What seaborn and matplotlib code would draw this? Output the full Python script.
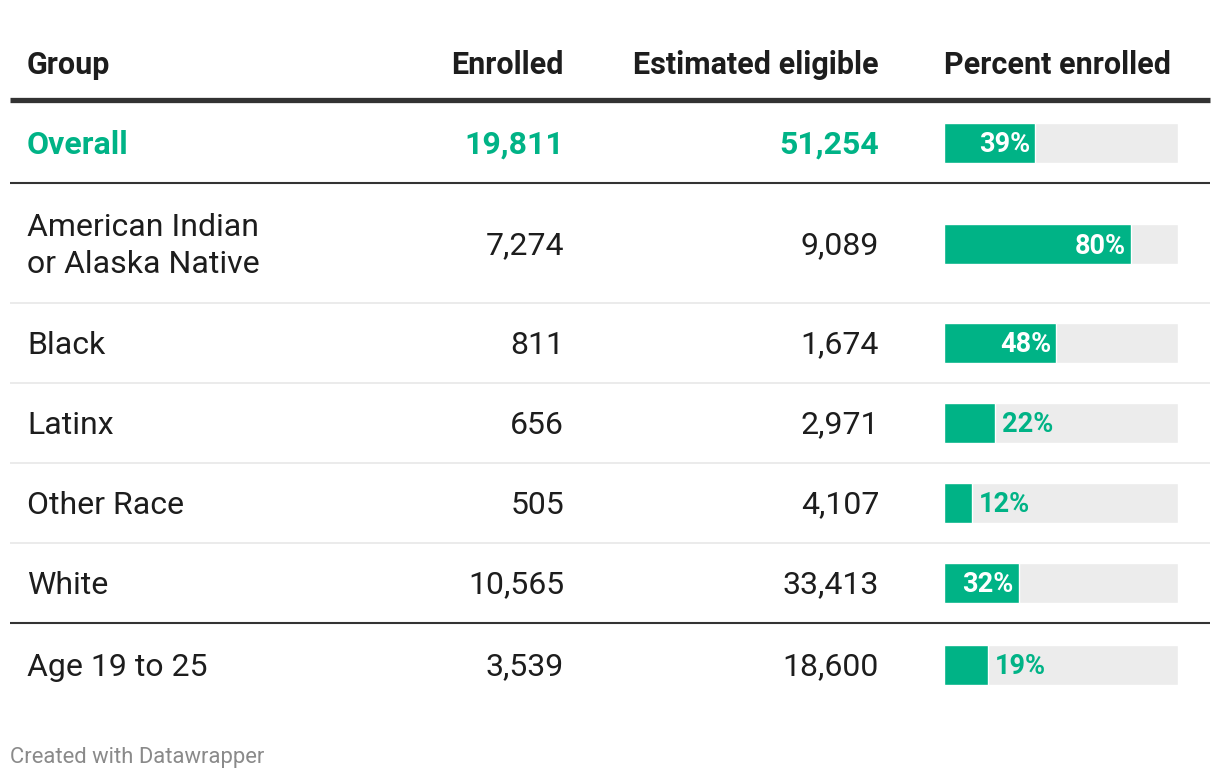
import matplotlib
matplotlib.use("Agg")
import matplotlib.pyplot as plt
import seaborn as sns
import pandas as pd

# table data
groups = ["Overall", "American Indian\nor Alaska Native", "Black", "Latinx", "Other Race", "White", "Age 19 to 25"]
enrolled = [19811, 7274, 811, 656, 505, 10565, 3539]
eligible = [51254, 9089, 1674, 2971, 4107, 33413, 18600]
percent = [39, 80, 48, 22, 12, 32, 19]
headers = ["Group", "Enrolled", "Estimated eligible", "Percent enrolled"]

# layout (pixels)
row_y = [143, 244, 343, 423, 503, 583, 665]
GREEN = "#00b386"
TRACK = "#ececec"
DARK = "#333333"
TEXT = "#1d1d1d"
FS = 23

sns.set_theme(style="white")
plt.rcParams["font.family"] = ["Roboto", "DejaVu Sans"]

fig = plt.figure(figsize=(12.2, 7.8), dpi=100)
ax = fig.add_axes([0, 0, 1, 1])
ax.set_xlim(0, 1220)
ax.set_ylim(780, 0)
ax.axis("off")

# header
hy = 65
ax.text(27, hy, headers[0], fontsize=22, fontweight="bold", color=TEXT, va="center", ha="left")
ax.text(564, hy, headers[1], fontsize=22, fontweight="bold", color=TEXT, va="center", ha="right")
ax.text(879, hy, headers[2], fontsize=22, fontweight="bold", color=TEXT, va="center", ha="right")
ax.text(944, hy, headers[3], fontsize=22, fontweight="bold", color=TEXT, va="center", ha="left")

# rules
ax.plot([10, 1210], [100, 100], color=DARK, lw=3.8, solid_capstyle="butt")
ax.plot([10, 1210], [183, 183], color=DARK, lw=1.5, solid_capstyle="butt")
ax.plot([10, 1210], [623, 623], color=DARK, lw=1.5, solid_capstyle="butt")
for yl in [303, 383, 463, 543]:
    ax.plot([10, 1210], [yl, yl], color="#e8e8e8", lw=1.2, solid_capstyle="butt")

# rows
for i, g in enumerate(groups):
    first = i == 0
    col = GREEN if first else TEXT
    fw = "bold" if first else "normal"
    ty = row_y[i] + 2
    ax.text(27, ty, g, fontsize=FS, fontweight=fw, color=col, va="center", ha="left",
            linespacing=1.35)
    ax.text(564, ty, f"{enrolled[i]:,}", fontsize=FS, fontweight=fw, color=col, va="center", ha="right")
    ax.text(879, ty, f"{eligible[i]:,}", fontsize=FS, fontweight=fw, color=col, va="center", ha="right")

ax.text(10, 757, "Created with Datawrapper", fontsize=15.8, color="#8a8a8a", va="center", ha="left")

# bar column
bx = fig.add_axes([944 / 1220, 0, 234 / 1220, 1])
df = pd.DataFrame({"y": row_y, "pct": percent, "track": [100] * len(percent)})
sns.barplot(data=df, x="track", y="y", orient="h", native_scale=True, color=TRACK,
            saturation=1, width=0.5, ax=bx)
sns.barplot(data=df, x="pct", y="y", orient="h", native_scale=True, color=GREEN,
            saturation=1, width=0.5, ax=bx)
bx.set_xlim(0, 100)
bx.set_ylim(780, 0)
bx.axis("off")

for yv, p in zip(row_y, percent):
    if p >= 30:
        bx.text(p - 2.2, yv + 2, f"{p}%", fontsize=19.5, fontweight="bold", color="white", va="center", ha="right")
    else:
        bx.text(p + 2.8, yv + 2, f"{p}%", fontsize=19.5, fontweight="bold", color=GREEN, va="center", ha="left")

fig.savefig("out.png", dpi=100)
